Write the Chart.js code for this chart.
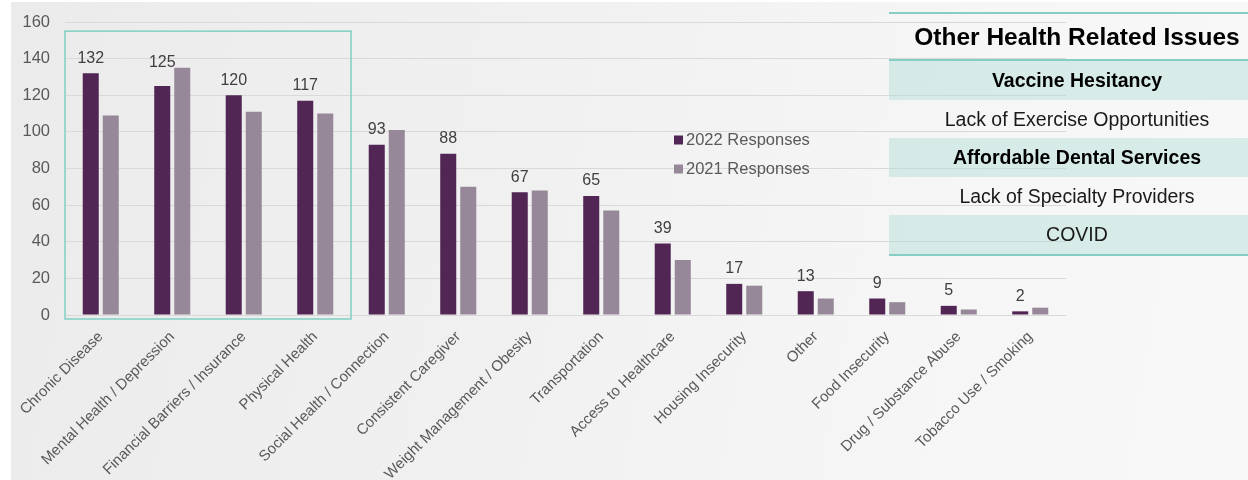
<!DOCTYPE html>
<html>
<head>
<meta charset="utf-8">
<script src="https://cdn.jsdelivr.net/npm/chart.js@4.4.1/dist/chart.umd.min.js"></script>
<style>
  html, body { margin: 0; padding: 0; background: #ffffff; overflow: hidden; }
  #stage {
    position: relative; width: 1248px; height: 480px; overflow: hidden;
    background: #ffffff;
  }
  #slide {
    position: absolute; left: 11px; top: 2px; right: 0; bottom: 0;
    background: linear-gradient(100deg, #ebebeb 0%, #f1f1f1 45%, #f6f6f6 75%, #f8f8f8 100%);
  }
  #chart { position: absolute; left: 0; top: 0; }
  #issues {
    position: absolute; left: 889px; top: 12px; width: 376px;
    font-family: "Liberation Sans", Arial, sans-serif; color: #111;
    border-top: 2px solid #86cdc3; border-bottom: 2px solid #86cdc3;
  }
  #issues .head {
    height: 45px; line-height: 45px; text-align: center;
    font-weight: bold; font-size: 24.5px; color: #000;
    border-bottom: 2px solid #86cdc3;
  }
  #issues .row {
    height: 38.6px; line-height: 38.6px; text-align: center; font-size: 19.5px; color: #1a1a1a;
  }
  #issues .row.fill { background: rgba(175, 222, 215, 0.45); }
  #issues .row.bold { font-weight: bold; color: #000; }
</style>
</head>
<body>
<div id="stage">
  <div id="slide"></div>
  <canvas id="chart" width="1248" height="480"></canvas>
  <div id="issues"></div>
</div>
<script>
// Survey categories and response counts
const categories = [
  "Chronic Disease", "Mental Health / Depression", "Financial Barriers / Insurance",
  "Physical Health", "Social Health / Connection", "Consistent Caregiver",
  "Weight Management / Obesity", "Transportation", "Access to Healthcare",
  "Housing Insecurity", "Other", "Food Insecurity", "Drug / Substance Abuse",
  "Tobacco Use / Smoking"
];
const responses2022 = [132, 125, 120, 117, 93, 88, 67, 65, 39, 17, 13, 9, 5, 2];
const responses2021 = [109, 135, 111, 110, 101, 70, 68, 57, 30, 16, 9, 7, 3, 4];
const seriesLabels = ["2022 Responses", "2021 Responses"];
const yTicks = [0, 20, 40, 60, 80, 100, 120, 140, 160];

// Side table of other issues; flags mark shaded and bold rows
const otherIssues = ["Vaccine Hesitancy", "Lack of Exercise Opportunities",
  "Affordable Dental Services", "Lack of Specialty Providers", "COVID"];
const otherIssuesShaded = [true, false, true, false, true];
const otherIssuesBold = [true, false, true, false, false];
const otherIssuesTitle = "Other Health Related Issues";

// Number of leading categories enclosed by the highlight frame
const highlightCount = 4;

const FONT = '"Liberation Sans", Arial, sans-serif';
const COLORS = ["#512554", "#968898"];

// Build the side table
(function buildTable() {
  const box = document.getElementById("issues");
  const head = document.createElement("div");
  head.className = "head";
  head.textContent = otherIssuesTitle;
  box.appendChild(head);
  otherIssues.forEach((t, i) => {
    const r = document.createElement("div");
    r.className = "row" + (otherIssuesShaded[i] ? " fill" : "") + (otherIssuesBold[i] ? " bold" : "");
    r.textContent = t;
    box.appendChild(r);
  });
})();

// Value labels above the 2022 bars; lifted when the taller neighbour bar would collide
const valueLabels = {
  id: "valueLabels",
  afterDatasetsDraw(chart) {
    const ctx = chart.ctx;
    const m0 = chart.getDatasetMeta(0);
    const m1 = chart.getDatasetMeta(1);
    ctx.save();
    ctx.font = "16px " + FONT;
    ctx.fillStyle = "#404040";
    ctx.textAlign = "center";
    ctx.textBaseline = "middle";
    m0.data.forEach((bar, i) => {
      const txt = String(chart.data.datasets[0].data[i]);
      const w = ctx.measureText(txt).width;
      let y = bar.y - 15;
      const other = m1.data[i];
      const otherLeft = other.x - other.width / 2;
      if (bar.x + w / 2 > otherLeft && other.y < y + 8) {
        y = other.y - 5;
      }
      ctx.fillText(txt, bar.x, y);
    });
    ctx.restore();
  }
};

// Teal frame around the leading categories
const highlightFrame = {
  id: "highlightFrame",
  afterDatasetsDraw(chart) {
    const x = chart.scales.x, y = chart.scales.y;
    const step = x.getPixelForValue(1) - x.getPixelForValue(0);
    const left = x.getPixelForValue(0) - step / 2;
    const right = x.getPixelForValue(highlightCount - 1) + step / 2;
    const top = y.getPixelForValue(155);
    const bottom = y.getPixelForValue(0) + 4;
    const ctx = chart.ctx;
    ctx.save();
    ctx.strokeStyle = "#7fcfc4";
    ctx.lineWidth = 1.5;
    ctx.strokeRect(left, top, right - left, bottom - top);
    ctx.restore();
  }
};

// Legend drawn inside the plot area
const innerLegend = {
  id: "innerLegend",
  afterDraw(chart) {
    const ctx = chart.ctx;
    const x0 = 674, y0 = 140, gap = 29;
    ctx.save();
    ctx.font = "16.5px " + FONT;
    ctx.textBaseline = "middle";
    ctx.textAlign = "left";
    chart.data.datasets.forEach((ds, i) => {
      const yy = y0 + i * gap;
      ctx.fillStyle = ds.backgroundColor;
      ctx.fillRect(x0, yy - 4.5, 9, 9);
      ctx.fillStyle = "#595959";
      ctx.fillText(ds.label, x0 + 12, yy);
    });
    ctx.restore();
  }
};

new Chart(document.getElementById("chart"), {
  type: "bar",
  data: {
    labels: categories,
    datasets: [
      { label: seriesLabels[0], data: responses2022, backgroundColor: COLORS[0] },
      { label: seriesLabels[1], data: responses2021, backgroundColor: COLORS[1] }
    ]
  },
  options: {
    responsive: false,
    animation: false,
    events: [],
    datasets: { bar: { categoryPercentage: 0.56, barPercentage: 0.8 } },
    layout: { padding: { top: 22, right: 182, bottom: 0, left: 0 } },
    plugins: { legend: { display: false }, tooltip: { enabled: false } },
    scales: {
      x: {
        grid: { display: false, drawTicks: false },
        border: { display: false },
        ticks: {
          autoSkip: false, maxRotation: 45, minRotation: 45, padding: 13,
          color: "#595959", font: { family: FONT, size: 15 }
        },
        afterFit(scale) { scale.height = 165; scale.paddingLeft = 0; scale.paddingRight = 0; }
      },
      y: {
        min: 0, max: 160,
        afterBuildTicks(scale) { scale.ticks = yTicks.map(v => ({ value: v })); },
        grid: { color: "#d9d9d9", lineWidth: 1, drawTicks: false },
        border: { display: false },
        ticks: { padding: 15, color: "#595959", font: { family: FONT, size: 16.5 } },
        afterFit(scale) { scale.width = 65; scale.paddingTop = 0; scale.paddingBottom = 0; }
      }
    }
  },
  plugins: [valueLabels, highlightFrame, innerLegend]
});
</script>
</body>
</html>
